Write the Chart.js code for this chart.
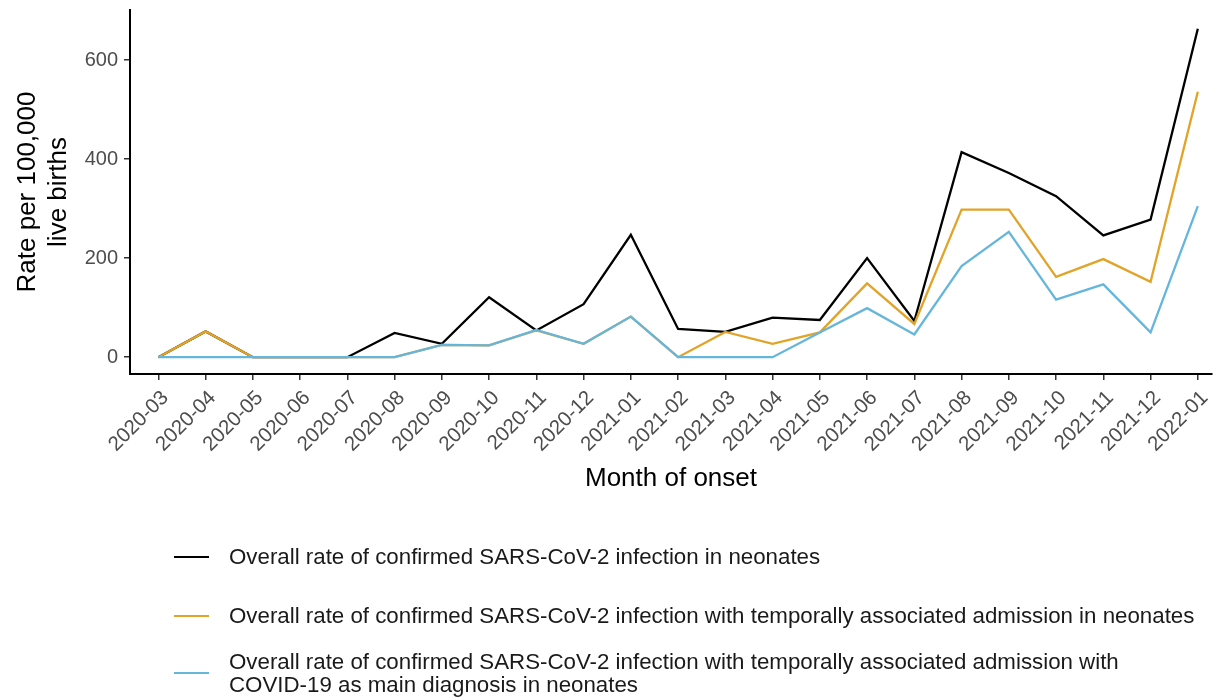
<!DOCTYPE html>
<html>
<head>
<meta charset="utf-8">
<script src="https://cdn.jsdelivr.net/npm/chart.js@4.4.1/dist/chart.umd.min.js"></script>
<style>
  html,body{margin:0;padding:0;background:#fff;}
  body{width:1214px;height:699px;overflow:hidden;position:relative;font-family:"Liberation Sans",Arial,sans-serif;}
  #wrap{position:absolute;left:0;top:0;width:1214px;height:510px;}
  #legend{position:absolute;left:0;top:0;width:1214px;height:699px;pointer-events:none;}
  .item{position:absolute;left:174px;display:flex;align-items:center;}
  .swatch{width:35px;height:2px;margin-right:20px;flex:none;}
  .lbl{font-size:22.3px;line-height:23px;color:#1a1a1a;white-space:nowrap;}
</style>
</head>
<body>
<div id="wrap"><canvas id="c"></canvas></div>
<div id="legend"></div>
<script>
// Monate (Kategorien)
const months = ['2020-03','2020-04','2020-05','2020-06','2020-07','2020-08','2020-09','2020-10','2020-11','2020-12',
                '2021-01','2021-02','2021-03','2021-04','2021-05','2021-06','2021-07','2021-08','2021-09','2021-10',
                '2021-11','2021-12','2022-01'];

// Raten pro 100.000 Lebendgeburten
const overall   = [0,52,0,0,0,49,27,121,54,107,247,57,51,80,75,200,73,414,372,325,246,278,663];
const admission = [0,52,0,0,0,0,25,24,54,27,82,0,51,27,50,149,67,298,298,162,198,152,536];
const mainDiag  = [0,0,0,0,0,0,25,24,55,27,82,0,0,0,50,99,46,184,253,116,147,50,305];

const yTickVals = [0,200,400,600];

const seriesNames = [
  'Overall rate of confirmed SARS-CoV-2 infection in neonates',
  'Overall rate of confirmed SARS-CoV-2 infection with temporally associated admission in neonates',
  'Overall rate of confirmed SARS-CoV-2 infection with temporally associated admission with<br>COVID-19 as main diagnosis in neonates'
];
const seriesColors = ['#000000','#E1A429','#66B6DC'];

const toXY = arr => arr.map((v,i)=>({x:i, y:v}));

// Legende als HTML
const legendTops = [545, 604, 650];
const lg = document.getElementById('legend');
seriesNames.forEach((n,i)=>{
  const d = document.createElement('div');
  d.className = 'item';
  d.style.top = legendTops[i] + 'px';
  d.innerHTML = `<div class="swatch" style="background:${seriesColors[i]}"></div><div class="lbl">${n}</div>`;
  lg.appendChild(d);
});

const FAM = '"Liberation Sans", Arial, sans-serif';
const tickFontY = {family:FAM, size:20};
const tickFontX = {family:FAM, size:20.5};
const titleFont = {family:FAM, size:26};

// Label-Überstand ignorieren, damit die Plotfläche fix bleibt
const noPad = s => { s.paddingTop = 0; s.paddingBottom = 0; s.paddingLeft = 0; s.paddingRight = 0; };

new Chart(document.getElementById('c'), {
  type:'line',
  data:{
    datasets:[
      // order: blau oben, dann gelb, schwarz unten
      {label:'overall',   data:toXY(overall),   borderColor:seriesColors[0], order:2},
      {label:'admission', data:toXY(admission), borderColor:seriesColors[1], order:1},
      {label:'mainDiag',  data:toXY(mainDiag),  borderColor:seriesColors[2], order:0}
    ].map(d=>({...d, borderWidth:2.3, pointRadius:0, tension:0, fill:false}))
  },
  options:{
    responsive:true,
    maintainAspectRatio:false,
    animation:false,
    layout:{padding:{top:10,right:2,left:12,bottom:16}},
    plugins:{legend:{display:false}, tooltip:{enabled:false}},
    scales:{
      x:{
        type:'linear',
        min:-0.6, max:22.3,
        afterBuildTicks: s => { s.ticks = months.map((_,i)=>({value:i})); },
        afterFit: s => { s.height = 120; noPad(s); },
        border:{display:true, color:'#000', width:2},
        grid:{display:true, drawOnChartArea:false, drawTicks:true, tickLength:6, color:'#333', lineWidth:1.5},
        ticks:{
          autoSkip:false, maxRotation:45, minRotation:45,
          color:'#4d4d4d', font:tickFontX, padding:6, labelOffset:7,
          callback: v => months[v] ?? ''
        },
        title:{display:true, text:'Month of onset', color:'#000', font:titleFont, padding:{top:0,bottom:0}}
      },
      y:{
        min:-34, max:701,
        afterBuildTicks: s => { s.ticks = yTickVals.map(v=>({value:v})); },
        afterFit: s => { s.width = 118; noPad(s); },
        border:{display:true, color:'#000', width:2},
        grid:{display:true, drawOnChartArea:false, drawTicks:true, tickLength:6, color:'#333', lineWidth:1.5},
        ticks:{color:'#4d4d4d', font:tickFontY, padding:6},
        title:{display:true, text:['Rate per 100,000','live births'], color:'#000', font:titleFont, padding:{top:0,bottom:4}}
      }
    }
  }
});
</script>
</body>
</html>
